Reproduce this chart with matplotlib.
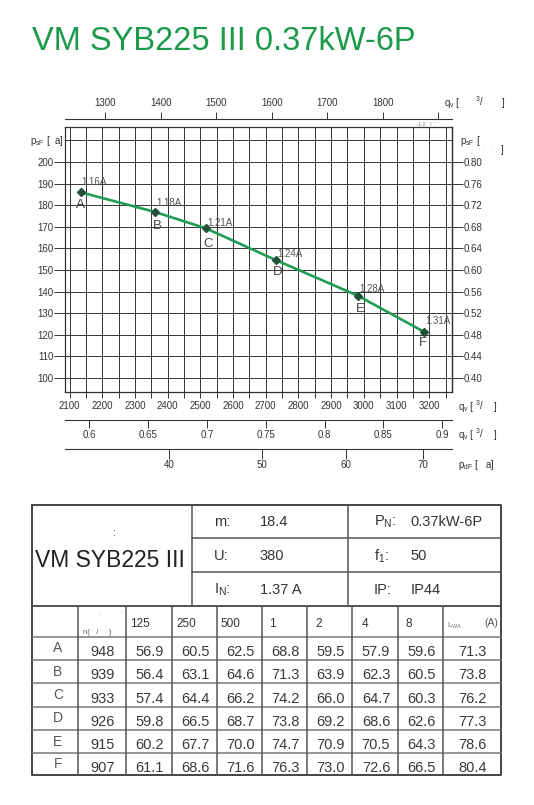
import numpy as np
import matplotlib
matplotlib.use('Agg')
import matplotlib.pyplot as plt
from matplotlib import font_manager
from matplotlib.ticker import FormatStrFormatter

plt.rcParams['font.family'] = ['Liberation Sans', 'DejaVu Sans']
plt.rcParams['mathtext.default'] = 'regular'

# 工况点 (风量 m3/h, 静压 Pa)
points = ['A', 'B', 'C', 'D', 'E', 'F']
flow_m3h = [2134, 2361, 2517, 2731, 2983, 3184]
psf_pa = [186.0, 176.9, 169.3, 154.6, 138.0, 121.4]
current = ['1.16A', '1.18A', '1.21A', '1.24A', '1.28A', '1.31A']

# 坐标刻度
flow_major = [2100, 2200, 2300, 2400, 2500, 2600, 2700, 2800, 2900, 3000, 3100, 3200]
flow_minor = [2150, 2250, 2350, 2450, 2550, 2650, 2750, 2850, 2950, 3050, 3150, 3250]
psf_ticks = [100, 110, 120, 130, 140, 150, 160, 170, 180, 190, 200]
inwg_ticks = [0.40, 0.44, 0.48, 0.52, 0.56, 0.60, 0.64, 0.68, 0.72, 0.76, 0.80]
cfm_ticks = [1300, 1400, 1500, 1600, 1700, 1800, 1900]
cfm_labels = ['1300', '1400', '1500', '1600', '1700', '1800', '']
m3s_ticks = [0.6, 0.65, 0.7, 0.75, 0.8, 0.85, 0.9]
m3s_labels = ['0.6', '0.65', '0.7', '0.75', '0.8', '0.85', '0.9']
pdf_ticks = [40, 50, 60, 70]

# 电机参数
motor_keys_l = ['m:', 'U:', 'I$_N$:']
motor_vals_l = ['18.4', '380', '1.37 A']
motor_keys_r = ['P$_N$:', 'f$_1$:', 'IP:']
motor_vals_r = ['0.37kW-6P', '50', 'IP44']

# 噪声表
bands = ['125', '250', '500', '1', '2', '4', '8']
speed_rpm = [948, 939, 933, 926, 915, 907]
lw_125 = [56.9, 56.4, 57.4, 59.8, 60.2, 61.1]
lw_250 = [60.5, 63.1, 64.4, 66.5, 67.7, 68.6]
lw_500 = [62.5, 64.6, 66.2, 68.7, 70.0, 71.6]
lw_1k = [68.8, 71.3, 74.2, 73.8, 74.7, 76.3]
lw_2k = [59.5, 63.9, 66.0, 69.2, 70.9, 73.0]
lw_4k = [57.9, 62.3, 64.7, 68.6, 70.5, 72.6]
lw_8k = [59.6, 60.5, 60.3, 62.6, 64.3, 66.5]
lwa = [71.3, 73.8, 76.2, 77.3, 78.6, 80.4]

GREEN = '#1f9d55'
TITLE = '#1c9a4c'
DARK = '#333333'
K_DYN = 6.92e-6  # 动压系数 Pa/(m3/h)^2

fig = plt.figure(figsize=(5.34, 8.05), dpi=100)
fig.text(32 / 534, 1 - 49.5 / 805, 'VM SYB225 III 0.37kW-6P', color=TITLE,
         fontsize=23.5, va='baseline', ha='left')

ax = fig.add_axes([0.1225, 0.5130, 0.7245, 0.3292])
ax.set_xlim(2087.5, 3270.6)
ax.set_ylim(93.5, 216.2)

for q in flow_major + flow_minor:
    ax.axvline(q, color=DARK, lw=0.7, zorder=1)
for p in psf_ticks + [210]:
    ax.axhline(p, color=DARK, lw=0.7, zorder=1)

ax.plot(flow_m3h, psf_pa, color=GREEN, lw=1.9, zorder=3)
ax.plot(flow_m3h, psf_pa, ls='none', marker='D', ms=3.8, color='#24503a', zorder=4)

cur_dy = [10, 8.7, 5, 5.7, 7, 11]
let_dx = [-0.7, 2.7, 2, 1.5, 1.7, -1.3]
let_dy = [13, 14, 16, 11.5, 13, 11.6]
for i in range(len(points)):
    ax.annotate(current[i], (flow_m3h[i], psf_pa[i]), xytext=(1, cur_dy[i]),
                textcoords='offset pixels', fontsize=7, color='#555555',
                ha='left', va='center', zorder=5)
    ax.annotate(points[i], (flow_m3h[i], psf_pa[i]), xytext=(let_dx[i], -let_dy[i]),
                textcoords='offset pixels', fontsize=9.5, color='#444444',
                ha='center', va='center', zorder=5)

for s in ax.spines.values():
    s.set_color(DARK)
    s.set_linewidth(0.9)

ax.set_xticks(flow_major)
ax.set_xticks(flow_minor, minor=True)
ax.set_yticks(psf_ticks)
ax.tick_params(axis='x', which='both', direction='out', length=4, width=0.7,
               color=DARK, labelcolor=DARK, labelsize=7, pad=2.6)
ax.tick_params(axis='y', which='major', direction='out', length=8.2, width=0.7,
               color=DARK, labelcolor=DARK, labelsize=7, pad=0.3)

# 右侧 in.wg
sec_y = ax.secondary_yaxis('right', functions=(lambda p: p / 250.0, lambda w: w * 250.0))
sec_y.set_yticks(inwg_ticks)
sec_y.yaxis.set_major_formatter(FormatStrFormatter('%.2f'))
sec_y.tick_params(direction='out', length=7.7, width=0.7, color=DARK,
                  labelcolor=DARK, labelsize=7, pad=0.3)
for s in sec_y.spines.values():
    s.set_color(DARK)
    s.set_linewidth(0.9)

# 顶部 CFM
top = ax.secondary_xaxis(1.0294, functions=(lambda q: q / 1.699, lambda c: c * 1.699))
top.set_xticks(cfm_ticks)
top.set_xticklabels(cfm_labels)
top.tick_params(direction='out', length=5, width=0.7, color=DARK,
                labelcolor=DARK, labelsize=7, pad=2.8)

# 底部 m3/s
m3s = ax.secondary_xaxis(-0.1064, functions=(lambda q: q / 3600.0, lambda s: s * 3600.0))
m3s.set_xticks(m3s_ticks)
m3s.set_xticklabels(m3s_labels)
m3s.tick_params(direction='out', length=6, width=0.7, color=DARK,
                labelcolor=DARK, labelsize=7, pad=1)

# 底部 动压
pdf = ax.secondary_xaxis(-0.2143, functions=(lambda q: K_DYN * np.asarray(q) ** 2,
                                             lambda p: np.sqrt(np.maximum(p, 0) / K_DYN)))
pdf.set_xticks(pdf_ticks)
pdf.tick_params(direction='out', length=7, width=0.7, color=DARK,
                labelcolor=DARK, labelsize=7, pad=0.8)

for sa in (top, m3s, pdf):
    for s in sa.spines.values():
        s.set_color(DARK)
        s.set_linewidth(0.8)

# 像素坐标叠加层: 单位标注和表格
ov = fig.add_axes([0, 0, 1, 1], zorder=-1)
ov.set_xlim(0, 534)
ov.set_ylim(805, 0)
ov.axis('off')


def put(x, yc, s, size, color=DARK, ha='left', family=None):
    kw = {}
    if family is not None:
        kw['family'] = family
    ov.text(x, yc + 0.358 * size / 0.72, s, fontsize=size, color=color,
            ha=ha, va='baseline', **kw)


put(30, 141, 'p$_{sF}$ [  a]', 7)
put(459.8, 141, 'p$_{sF}$ [', 7)
put(483, 150, '·   ·  ·', 5, color='#bbbbbb')
put(501, 150, ']', 7)
put(444.5, 103, 'q$_v$ [', 7)
put(475, 103, '$^3$/', 7)
put(502, 103, ']', 7)
put(416.5, 124.3, '-1.2   /  \'', 4, color='#888888')
for yc in (406.6, 435):
    put(458, yc, 'q$_v$ [', 7)
    put(475, yc, '$^3$/', 7)
    put(493.5, yc, ']', 7)
put(458, 464.5, 'p$_{dF}$ [   a]', 7)

LINE = '#555555'
tl, tr = 32, 501
t_top, t_mid, t_bot = 504.7, 606, 775
up_rows = [538.3, 571.7]
up_cols = [191.7, 348.3]
col_x = [32, 77.7, 126, 171.7, 216.7, 262.3, 307.3, 352.3, 397.7, 442.7, 501]
row_y = [606, 636.7, 660, 683.3, 706.7, 730, 753.3, 775]

ov.plot([tl, tr, tr, tl, tl], [t_top, t_top, t_bot, t_bot, t_top], color='#444444', lw=1.4)
ov.plot([tl, tr], [t_mid, t_mid], color='#444444', lw=1.3)
for yv in up_rows:
    ov.plot([up_cols[0], tr], [yv, yv], color=LINE, lw=1.1)
for xv in up_cols:
    ov.plot([xv, xv], [t_top, t_mid], color=LINE, lw=1.1)
for yv in row_y[1:-1]:
    ov.plot([tl, tr], [yv, yv], color='#777777', lw=1.1)
for xv in col_x[1:-1]:
    ov.plot([xv, xv], [t_mid, t_bot], color=LINE, lw=1.1)

names = {f.name for f in font_manager.fontManager.ttflist}
if 'Liberation Sans Narrow' in names:
    put(36, 559.2, 'VM SYB225 III', 19.5, color='#222222', family='Liberation Sans Narrow')
else:
    put(35, 559.2, 'VM SYB225 III', 16.5, color='#222222')
put(111.7, 533, ':', 7)

up_yc = [520.5, 555, 588.5]
for i in range(3):
    put(214, up_yc[i], motor_keys_l[i], 10.5)
    put(259.5, up_yc[i], motor_vals_l[i], 10.5)
    put(374, up_yc[i], motor_keys_r[i], 10.5)
    put(410.5, up_yc[i], motor_vals_r[i], 10.5)

head_x = [130.5, 176.5, 220.5, 269.5, 315, 361.5, 405]
for j, b in enumerate(bands):
    put(head_x[j], 622.7, b, 8.5)
put(83, 631.7, 'n(   /     )', 5.5, color='#555555')
put(97, 615, '·', 5, color='#999999')
put(121, 614, '\'', 4, color='#999999')
put(447, 625, 'L$_{WA}$', 5.5, color='#777777')
put(498, 622.7, '(A)', 7.5, color='#555555', ha='right')

cols = [speed_rpm, lw_125, lw_250, lw_500, lw_1k, lw_2k, lw_4k, lw_8k, lwa]
for i in range(len(points)):
    yc = (row_y[i + 1] + row_y[i + 2]) / 2
    put(58, yc - 1, points[i], 10, color='#555555', ha='center')
    for j, col in enumerate(cols):
        xc = (col_x[j + 1] + col_x[j + 2]) / 2 + 1
        txt = str(col[i]) if j == 0 else '%.1f' % col[i]
        put(xc, yc + 2.5, txt, 10.5, color='#3a3a3a', ha='center')

fig.savefig('out.png', dpi=100)
